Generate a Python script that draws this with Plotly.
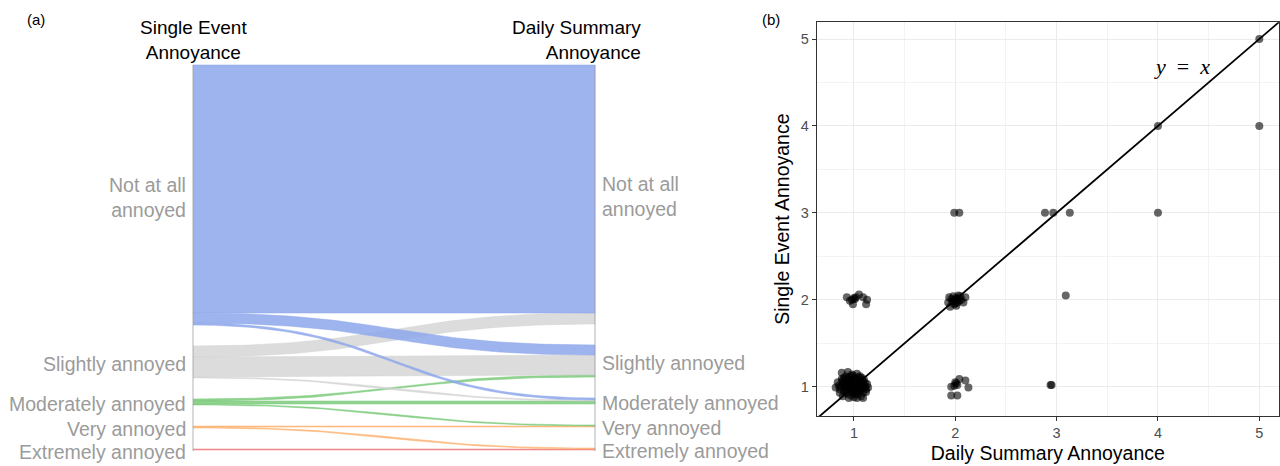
import numpy as np
import plotly.graph_objects as go

# ---------------- data ----------------
LEVEL_LABELS = ["Not at all<br>annoyed", "Slightly annoyed", "Moderately annoyed",
                "Very annoyed", "Extremely annoyed"]
LEVEL_COLORS = ["rgba(140,166,235,0.84)", "rgba(210,210,210,0.78)", "rgba(118,200,118,0.8)",
                "rgba(253,178,112,0.85)", "rgba(240,128,128,0.85)"]

# alluvial flows: Single Event level (source) -> Daily Summary level (target)
FLOW_SOURCE = [0, 0, 0, 1, 1, 1, 2, 2, 2, 3, 3, 4]
FLOW_TARGET = [0, 1, 2, 0, 1, 2, 1, 2, 3, 3, 4, 4]
FLOW_COUNT = [248, 10, 2, 11, 20, 1, 2, 3, 1, 1, 1, 1]

# scatter (jittered) : x = Daily Summary Annoyance, y = Single Event Annoyance
DAILY_SUMMARY = [
    # (1,1) cluster
    0.82, 0.84, 0.86, 0.88, 0.89, 0.92, 0.94, 0.95, 0.98, 1.00, 1.03, 1.03, 1.06, 1.07, 1.09, 1.10,
    1.12, 1.13, 1.14, 1.11, 0.87, 0.88, 0.90, 0.90, 0.91, 0.93, 0.93, 0.94, 0.95, 0.96, 0.96, 0.97,
    0.98, 0.99, 1.00, 1.00, 1.01, 1.02, 1.03, 1.04, 1.05, 1.06, 1.07, 1.08, 1.09, 1.10, 0.92, 0.98,
    1.04, 0.95, 0.85, 0.86, 0.89, 0.91, 0.94, 0.97, 0.99, 1.01, 1.02, 1.05, 1.08, 1.11, 1.12, 0.90,
    0.93, 0.96, 1.00, 1.03, 1.06, 1.09, 0.88, 0.92, 0.97, 1.01, 1.05, 1.08, 0.94, 0.99, 1.02, 1.07,
    # (1,2)
    0.93, 0.96, 0.99, 1.00, 1.01, 1.02, 1.05, 1.09, 1.12, 1.13, 0.98,
    # (2,2)
    1.93, 1.95, 1.96, 1.97, 1.98, 1.99, 2.00, 2.01, 2.02, 2.03, 2.04, 1.98, 2.00, 2.02, 2.06, 2.08,
    2.10, 2.05, 1.94, 2.01,
    # (2,1)
    1.96, 2.02, 1.96, 1.99, 2.00, 2.04, 2.02, 2.10, 2.13, 2.01,
    # (3,1), (3,2), (2,3), (3,3), (4,3), (4,4), (5,4), (5,5)
    2.94, 2.95, 3.09, 1.99, 2.04, 2.885, 2.967, 3.13, 4.0, 4.0, 5.0, 5.0,
]
SINGLE_EVENT = [
    0.99, 1.05, 0.93, 1.16, 0.89, 1.12, 1.17, 0.87, 1.14, 0.88, 1.15, 0.87, 1.12, 0.89, 0.87, 1.08,
    0.94, 1.03, 0.99, 1.00, 1.00, 1.06, 0.95, 1.02, 1.09, 0.92, 0.99, 1.05, 1.11, 0.96, 1.02, 0.90,
    1.07, 0.98, 1.03, 0.94, 1.10, 0.99, 1.05, 0.92, 1.01, 1.07, 0.96, 1.03, 0.93, 0.99, 1.04, 1.01,
    0.97, 0.99, 1.01, 0.97, 1.03, 0.98, 1.08, 1.12, 0.93, 1.06, 0.91, 1.11, 0.98, 1.04, 0.97, 1.10,
    1.02, 1.08, 0.97, 0.95, 1.03, 1.06, 1.09, 0.94, 1.04, 0.93, 0.96, 1.10, 1.00, 1.13, 1.08, 1.00,
    2.03, 1.99, 1.95, 2.02, 2.01, 2.03, 2.06, 2.03, 1.95, 2.00, 2.00,
    1.97, 1.92, 2.01, 1.98, 2.04, 1.95, 2.00, 2.02, 1.97, 2.05, 1.99, 1.99, 1.96, 2.01, 2.00, 1.97,
    2.03, 2.04, 2.03, 1.93,
    0.90, 0.90, 1.00, 1.01, 1.05, 1.09, 1.02, 1.07, 0.99, 1.04,
    1.02, 1.02, 2.05, 3.0, 3.0, 3.0, 3.0, 3.0, 3.0, 4.0, 4.0, 5.0,
]
X_TICKS = [1, 2, 3, 4, 5]
Y_TICKS = [1, 2, 3, 4, 5]

# ---------------- layout constants ----------------
NODE_GAP = 21
FONT = "Liberation Sans, Arial, sans-serif"
LABEL_GREY = "#9b9b9b"

fig = go.Figure()

# ---------------- alluvial (panel a) ----------------
n = len(LEVEL_LABELS)
src_tot = [sum(c for s, c in zip(FLOW_SOURCE, FLOW_COUNT) if s == i) for i in range(n)]
tgt_tot = [sum(c for t, c in zip(FLOW_TARGET, FLOW_COUNT) if t == i) for i in range(n)]


def node_tops(tots):
    tops, y = [], 0.0
    for v in tots:
        tops.append(y)
        y += v + NODE_GAP
    return tops


left_top = node_tops(src_tot)
right_top = node_tops(tgt_tot)

# offsets of each flow inside its nodes
left_off = list(left_top)
right_off = list(right_top)
flow_geo = [None] * len(FLOW_COUNT)
for k in sorted(range(len(FLOW_COUNT)), key=lambda k: (FLOW_SOURCE[k], FLOW_TARGET[k])):
    s = FLOW_SOURCE[k]
    flow_geo[k] = [left_off[s], left_off[s] + FLOW_COUNT[k]]
    left_off[s] += FLOW_COUNT[k]
for k in sorted(range(len(FLOW_COUNT)), key=lambda k: (FLOW_TARGET[k], FLOW_SOURCE[k])):
    t = FLOW_TARGET[k]
    flow_geo[k] += [right_off[t], right_off[t] + FLOW_COUNT[k]]
    right_off[t] += FLOW_COUNT[k]

tt = np.linspace(0, 1, 80)
bx = 1.5 * (1 - tt) ** 2 * tt + 1.5 * (1 - tt) * tt ** 2 + tt ** 3
by = 3 * tt ** 2 - 2 * tt ** 3

order = sorted(range(len(FLOW_COUNT)), key=lambda k: -FLOW_SOURCE[k])
for k in order:
    y0s, y1s, y0t, y1t = flow_geo[k]
    top = y0s + (y0t - y0s) * by
    bot = y1s + (y1t - y1s) * by
    xs = np.concatenate([bx, bx[::-1]])
    ys = np.concatenate([top, bot[::-1]])
    col = LEVEL_COLORS[FLOW_SOURCE[k]]
    fig.add_trace(go.Scatter(x=xs, y=ys, mode="lines", fill="toself", fillcolor=col,
                             line=dict(color=col, width=0.6), hoverinfo="skip",
                             showlegend=False, xaxis="x", yaxis="y"))

span_end = left_top[-1] + src_tot[-1]
for xc in (0, 1):
    fig.add_trace(go.Scatter(x=[xc, xc], y=[0, span_end + 1], mode="lines",
                             line=dict(color="rgba(150,150,160,0.45)", width=1.6),
                             hoverinfo="skip", showlegend=False, xaxis="x", yaxis="y"))

annotations = []
for i, lab in enumerate(LEVEL_LABELS):
    annotations.append(dict(x=-0.0125, y=left_top[i] + src_tot[i] / 2, xref="x", yref="y",
                            text=lab, showarrow=False, xanchor="right", align="right",
                            yanchor="middle", yshift=-2,
                            font=dict(family=FONT, size=19.5, color=LABEL_GREY)))
    annotations.append(dict(x=1.0125, y=right_top[i] + tgt_tot[i] / 2, xref="x", yref="y",
                            text=lab, showarrow=False, xanchor="left", align="left",
                            yanchor="middle", yshift=-2,
                            font=dict(family=FONT, size=19.5, color=LABEL_GREY)))

annotations += [
    dict(x=0.0, y=-25.5, xref="x", yref="y", text="Single Event<br>Annoyance",
         showarrow=False, xanchor="center", align="center", yanchor="middle",
         font=dict(family=FONT, size=19, color="black")),
    dict(x=1.119, y=-25.5, xref="x", yref="y", text="Daily Summary<br>Annoyance",
         showarrow=False, xanchor="right", align="right", yanchor="middle",
         font=dict(family=FONT, size=19, color="black")),
    dict(x=36 / 1280, y=1 - 20 / 466, xref="paper", yref="paper", text="(a)",
         showarrow=False, xanchor="center", yanchor="middle",
         font=dict(family=FONT, size=15, color="black")),
    dict(x=771 / 1280, y=1 - 20 / 466, xref="paper", yref="paper", text="(b)",
         showarrow=False, xanchor="center", yanchor="middle",
         font=dict(family=FONT, size=15, color="black")),
    dict(x=4.24, y=4.68, xref="x2", yref="y2", text="<i>y</i>  =  <i>x</i>",
         showarrow=False, xanchor="center", yanchor="middle",
         font=dict(family="Liberation Serif, DejaVu Serif, serif", size=22, color="black")),
]

# ---------------- scatter (panel b) ----------------
fig.add_trace(go.Scatter(x=[0, 6], y=[0, 6], mode="lines", line=dict(color="black", width=1.8),
                         hoverinfo="skip", showlegend=False, xaxis="x2", yaxis="y2"))
fig.add_trace(go.Scatter(x=DAILY_SUMMARY, y=SINGLE_EVENT, mode="markers",
                         marker=dict(size=8, color="rgba(0,0,0,0.6)", line=dict(width=0)),
                         showlegend=False, xaxis="x2", yaxis="y2"))

axis_common = dict(
    showgrid=True, gridcolor="#ebebeb", gridwidth=1.2, zeroline=False,
    showline=True, mirror=True, linecolor="#333333", linewidth=1,
    ticks="outside", ticklen=4, tickwidth=1, tickcolor="#333333",
    tickfont=dict(family=FONT, size=14.5, color="#4d4d4d"),
    minor=dict(dtick=0.5, showgrid=True, gridcolor="#f3f3f3", gridwidth=0.7, ticks=""),
)

fig.update_layout(
    width=1280, height=466, margin=dict(l=0, r=0, t=0, b=0),
    paper_bgcolor="white", plot_bgcolor="white",
    xaxis=dict(domain=[0, 0.52], range=[-0.4801, 1.1756], visible=False),
    yaxis=dict(domain=[0, 1], range=[401, -65], visible=False, anchor="x"),
    xaxis2=dict(domain=[0.638, 0.9992], range=[0.632, 5.194], anchor="y2",
                tickmode="array", tickvals=X_TICKS,
                title=dict(text="Daily Summary Annoyance", standoff=5,
                           font=dict(family=FONT, size=19.5, color="black")),
                **axis_common),
    yaxis2=dict(domain=[0.1073, 0.9521], range=[0.663, 5.192], anchor="x2",
                tickmode="array", tickvals=Y_TICKS,
                title=dict(text="Single Event Annoyance", standoff=5,
                           font=dict(family=FONT, size=19.5, color="black")),
                **axis_common),
    annotations=annotations,
    showlegend=False,
)

fig.write_html("out.html")
